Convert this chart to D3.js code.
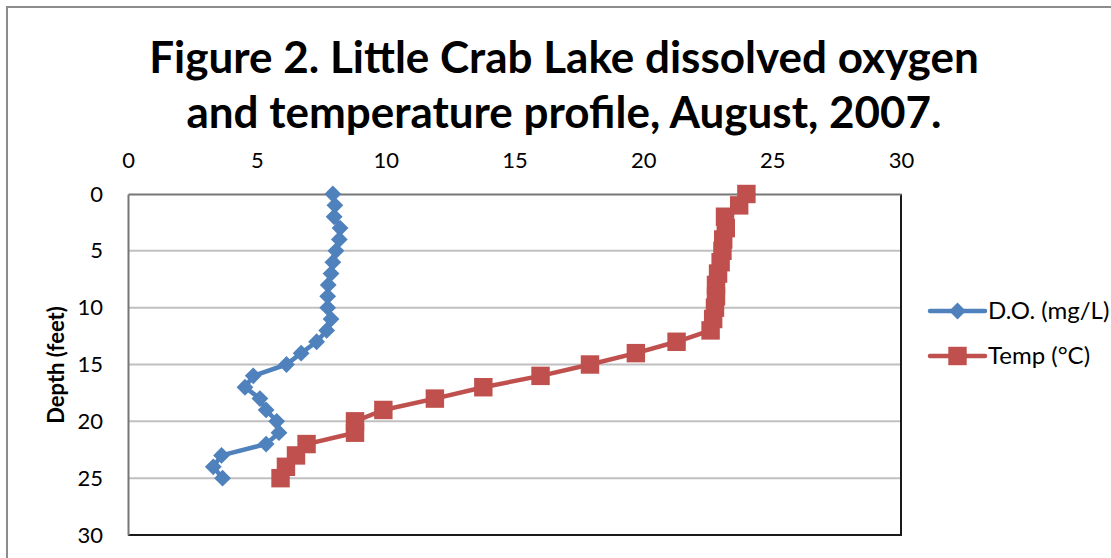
<!DOCTYPE html>
<html>
<head>
<meta charset="utf-8">
<script src="https://cdn.jsdelivr.net/npm/d3@7"></script>
<style>
  html, body { margin: 0; padding: 0; background: #fff; }
  svg { display: block; }
  text { font-family: Lato, "Open Sans", sans-serif; fill: #000; }
</style>
</head>
<body>
<div id="chart"></div>
<script>
// depth (feet), dissolved oxygen (mg/L), temperature (°C)
const depths = [0, 1, 2, 3, 4, 5, 6, 7, 8, 9, 10, 11, 12, 13, 14, 15, 16, 17, 18, 19, 20, 21, 22, 23, 24, 25];
const doValues = [7.95, 8.03, 8.0, 8.23, 8.2, 8.07, 7.95, 7.88, 7.77, 7.75, 7.75, 7.88, 7.71, 7.32, 6.72, 6.15,
  4.86, 4.54, 5.12, 5.36, 5.77, 5.86, 5.36, 3.63, 3.31, 3.67];
const tempValues = [24.0, 23.72, 23.17, 23.2, 23.1, 23.07, 23.0, 22.9, 22.82, 22.82, 22.78, 22.71, 22.61, 21.29,
  19.71, 17.93, 16.01, 13.79, 11.91, 9.91, 8.81, 8.81, 6.93, 6.52, 6.13, 5.92];
const xTicks = [0, 5, 10, 15, 20, 25, 30];
const yTicks = [0, 5, 10, 15, 20, 25, 30];
const seriesNames = ['D.O. (mg/L)', 'Temp (°C)'];
const titleLines = ['Figure 2. Little Crab Lake dissolved oxygen', 'and temperature profile, August, 2007.'];

const W = 1111, H = 558;
const plot = { left: 128, top: 194, right: 901, bottom: 535 };
const blue = '#4F81BD', red = '#C0504D';

const svg = d3.select('#chart').append('svg')
  .attr('width', W).attr('height', H);

// chart border
svg.append('path')
  .attr('d', `M7,${H} V7 H${W}`)
  .attr('fill', 'none').attr('stroke', '#8c8c8c').attr('stroke-width', 2);

// title
svg.selectAll('.title').data(titleLines).join('text')
  .attr('class', 'title')
  .attr('x', 564).attr('y', (d, i) => 73 + i * 55)
  .attr('text-anchor', 'middle')
  .attr('font-size', '44px').attr('font-weight', 'bold')
  .text(d => d);

const x = d3.scaleLinear().domain([0, 30]).range([plot.left, plot.right]);
const y = d3.scaleLinear().domain([0, 30]).range([plot.top, plot.bottom]);

// gridlines
svg.append('g').selectAll('line').data(yTicks.slice(1, -1)).join('line')
  .attr('x1', plot.left).attr('x2', plot.right)
  .attr('y1', d => y(d)).attr('y2', d => y(d))
  .attr('stroke', '#c0c0c0').attr('stroke-width', 2);

// plot area frame (bottom / right)
svg.append('path')
  .attr('d', `M${plot.left},${plot.bottom} H${plot.right} V${plot.top}`)
  .attr('fill', 'none').attr('stroke', '#1a1a1a').attr('stroke-width', 2);

// axes: x on top, y on left (reversed)
const xAxis = svg.append('g')
  .attr('transform', `translate(0,${plot.top})`)
  .call(d3.axisTop(x).tickValues(xTicks).tickSize(0).tickPadding(26));
const yAxis = svg.append('g')
  .attr('transform', `translate(${plot.left},0)`)
  .call(d3.axisLeft(y).tickValues(yTicks).tickSize(0).tickPadding(25));
[xAxis, yAxis].forEach(a => {
  a.select('.domain').attr('stroke', '#777').attr('stroke-width', 2);
  a.selectAll('text').attr('font-size', '22px').attr('fill', '#000')
    .style('font-family', 'Lato, "Open Sans", sans-serif');
});

svg.append('text')
  .attr('transform', `translate(64,365) rotate(-90)`)
  .attr('text-anchor', 'middle')
  .attr('font-size', '22px').attr('font-weight', 'bold')
  .text('Depth (feet)');

const doData = depths.map((d, i) => ({ depth: d, v: doValues[i] }));
const tempData = depths.map((d, i) => ({ depth: d, v: tempValues[i] }));
const line = d3.line().x(d => x(d.v)).y(d => y(d.depth));

const diamond = d3.symbol().type(d3.symbolDiamond2).size(180);
const square = d3.symbol().type(d3.symbolSquare).size(340);

// D.O. series
svg.append('path').datum(doData)
  .attr('d', line).attr('fill', 'none')
  .attr('stroke', blue).attr('stroke-width', 4.5).attr('stroke-linejoin', 'round');
svg.append('g').selectAll('path').data(doData).join('path')
  .attr('transform', d => `translate(${x(d.v)},${y(d.depth)})`)
  .attr('d', diamond).attr('fill', blue);

// Temp series
svg.append('path').datum(tempData)
  .attr('d', line).attr('fill', 'none')
  .attr('stroke', red).attr('stroke-width', 4.5).attr('stroke-linejoin', 'round');
svg.append('g').selectAll('path').data(tempData).join('path')
  .attr('transform', d => `translate(${x(d.v)},${y(d.depth)})`)
  .attr('d', square).attr('fill', red);

// legend
const legend = svg.append('g');
const legendItems = [
  { name: seriesNames[0], color: blue, sym: diamond, y: 311 },
  { name: seriesNames[1], color: red, sym: square, y: 356 }
];
legendItems.forEach(it => {
  legend.append('line')
    .attr('x1', 930).attr('x2', 985).attr('y1', it.y).attr('y2', it.y)
    .attr('stroke', it.color).attr('stroke-width', 4.5).attr('stroke-linecap', 'round');
  legend.append('path')
    .attr('transform', `translate(957.5,${it.y})`)
    .attr('d', it.sym).attr('fill', it.color);
  legend.append('text')
    .attr('x', 988).attr('y', it.y + 8)
    .attr('font-size', '24px')
    .text(it.name);
});
</script>
</body>
</html>
